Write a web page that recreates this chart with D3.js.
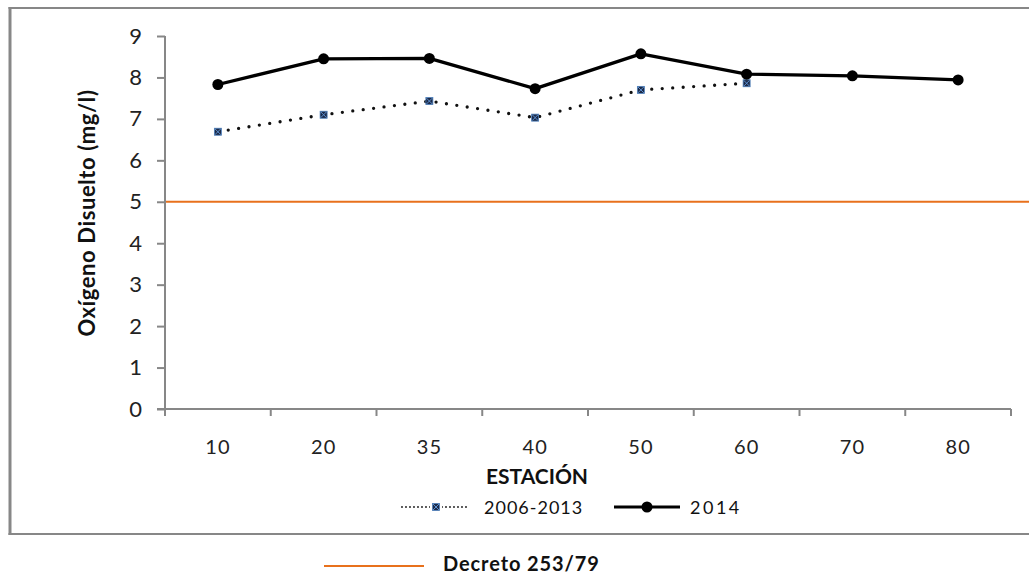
<!DOCTYPE html>
<html><head><meta charset="utf-8">
<script src="https://cdn.jsdelivr.net/npm/d3@7"></script>
<style>
html,body{margin:0;padding:0;background:#fff;}
svg{display:block;font-family:Lato,"Open Sans",sans-serif;}
</style></head>
<body>
<svg id="c" width="1029" height="575"></svg>
<script>
const estaciones = ["10","20","35","40","50","60","70","80"];
const serie2006_2013 = [6.69, 7.10, 7.43, 7.03, 7.70, 7.86, null, null];
const serie2014 = [7.83, 8.45, 8.46, 7.73, 8.57, 8.08, 8.04, 7.94];
const decreto = 5;
const yTicks = [0,1,2,3,4,5,6,7,8,9];

const svg = d3.select("#c");
const axisColor = "#878787";

// outer frame
svg.append("line").attr("x1",10).attr("x2",10).attr("y1",7).attr("y2",535).attr("stroke",axisColor).attr("stroke-width",3);
svg.append("line").attr("x1",8.5).attr("x2",1029).attr("y1",8).attr("y2",8).attr("stroke",axisColor).attr("stroke-width",2);
svg.append("line").attr("x1",8.5).attr("x2",1029).attr("y1",534).attr("y2",534).attr("stroke",axisColor).attr("stroke-width",2);

const x = d3.scaleBand().domain(estaciones).range([165,1011]).padding(0);
const y = d3.scaleLinear().domain([0,9]).range([409,36]);

// y axis
const yAxis = svg.append("g").attr("transform","translate(165,0)")
  .call(d3.axisLeft(y).tickValues(yTicks).tickSize(8).tickSizeOuter(0).tickPadding(15));
yAxis.select(".domain").attr("stroke",axisColor).attr("stroke-width",2).attr("d","M0,36V416");
yAxis.selectAll(".tick line").attr("stroke",axisColor).attr("stroke-width",2);
yAxis.selectAll(".tick text").attr("font-size",22).attr("fill","#222").attr("font-family","Lato, sans-serif");

// x axis
const xAxis = svg.append("g").attr("transform","translate(0,409)")
  .call(d3.axisBottom(x).tickSize(0).tickPadding(31));
xAxis.select(".domain").attr("stroke",axisColor).attr("stroke-width",2).attr("d","M157,0H1011");
xAxis.selectAll(".tick text").attr("font-size",20).attr("letter-spacing",1).attr("fill","#222").attr("font-family","Lato, sans-serif");
const edges = estaciones.map(d=>x(d)).concat([x(estaciones[estaciones.length-1])+x.bandwidth()]);
xAxis.selectAll("line.edge").data(edges).enter().append("line")
  .attr("x1",d=>d).attr("x2",d=>d).attr("y1",0).attr("y2",7)
  .attr("stroke",axisColor).attr("stroke-width",2);

// reference line
svg.append("line").attr("x1",166).attr("x2",1029).attr("y1",y(decreto)).attr("y2",y(decreto))
  .attr("stroke","#E8711C").attr("stroke-width",2);

const cx = d => x(d)+x.bandwidth()/2;

// 2006-2013 dotted
const pts1 = estaciones.map((d,i)=>({k:d,v:serie2006_2013[i]})).filter(p=>p.v!=null);
const line = d3.line().x(p=>cx(p.k)).y(p=>y(p.v));
svg.append("path").attr("d",line(pts1)).attr("fill","none").attr("stroke","#111")
  .attr("stroke-width",3.3).attr("stroke-dasharray","0 10.5").attr("stroke-linecap","round");

// 2014 solid
const pts2 = estaciones.map((d,i)=>({k:d,v:serie2014[i]}));
svg.append("path").attr("d",line(pts2)).attr("fill","none").attr("stroke","#000")
  .attr("stroke-width",3.3).attr("stroke-linejoin","round");

function sqMarker(g, px, py){
  g.append("rect").attr("x",px-3.5).attr("y",py-3.5).attr("width",7).attr("height",7).attr("fill","#1c2a48");
  g.append("path").attr("d",`M${px-3},${py-3}L${px+3},${py+3}M${px+3},${py-3}L${px-3},${py+3}`)
    .attr("stroke","#5b8fd0").attr("stroke-width",1);
  g.append("rect").attr("x",px-3.5).attr("y",py-3.5).attr("width",7).attr("height",7).attr("fill","none").attr("stroke","#4f81bd").attr("stroke-width",0.8);
}
const m1 = svg.append("g");
pts1.forEach(p=>sqMarker(m1, cx(p.k), y(p.v)));

svg.append("g").selectAll("circle").data(pts2).enter().append("circle")
  .attr("cx",p=>cx(p.k)).attr("cy",p=>y(p.v)).attr("r",5.5).attr("fill","#000");

// axis titles
svg.append("text").attr("transform","translate(95,213) rotate(-90)").attr("text-anchor","middle")
  .attr("font-size",22).attr("font-weight","bold").attr("letter-spacing",0.6).attr("fill","#111").text("Oxígeno Disuelto (mg/l)");
svg.append("text").attr("x",537).attr("y",484).attr("text-anchor","middle")
  .attr("font-size",21).attr("font-weight","bold").attr("fill","#111").text("ESTACIÓN");

// legend
const lg = svg.append("g");
lg.append("line").attr("x1",402).attr("x2",470).attr("y1",507).attr("y2",507)
  .attr("stroke","#111").attr("stroke-width",1.8).attr("stroke-dasharray","0 4").attr("stroke-linecap","round");
lg.append("rect").attr("x",430).attr("y",503).attr("width",12).attr("height",8).attr("fill","#fff");
sqMarker(lg, 436, 507);
lg.append("text").attr("x",484).attr("y",514).attr("font-size",18).attr("letter-spacing",1).attr("fill","#111").text("2006-2013");
lg.append("line").attr("x1",614).attr("x2",680).attr("y1",507).attr("y2",507).attr("stroke","#000").attr("stroke-width",3);
lg.append("circle").attr("cx",647).attr("cy",507).attr("r",5.5).attr("fill","#000");
lg.append("text").attr("x",690).attr("y",514).attr("font-size",18).attr("letter-spacing",2.5).attr("fill","#111").text("2014");

svg.append("line").attr("x1",324).attr("x2",424).attr("y1",566).attr("y2",566).attr("stroke","#E8711C").attr("stroke-width",2);
svg.append("text").attr("x",443).attr("y",571).attr("font-size",20).attr("font-weight","bold").attr("letter-spacing",0.9).attr("fill","#111").text("Decreto 253/79");
</script>
</body></html>
